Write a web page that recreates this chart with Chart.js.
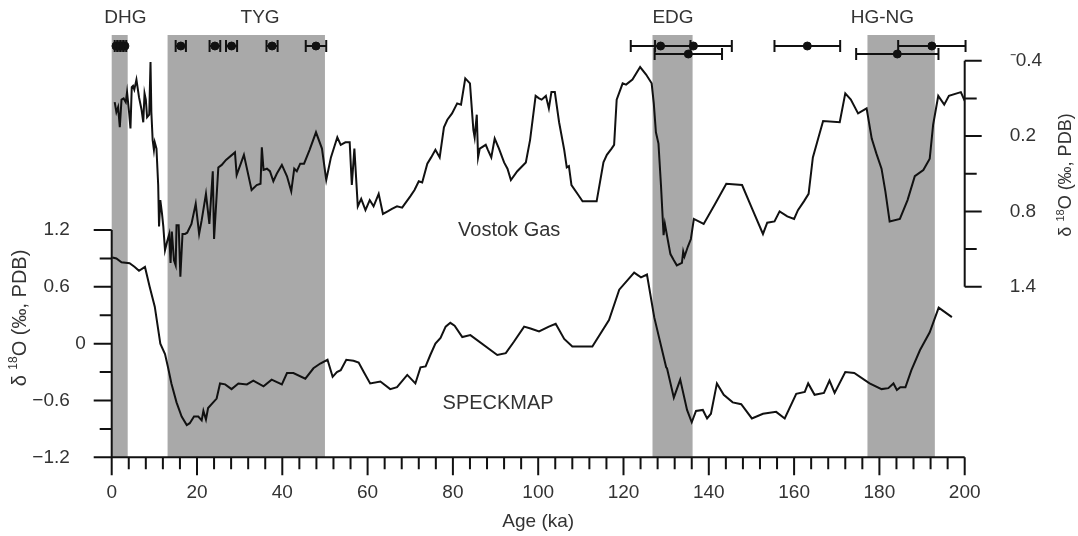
<!DOCTYPE html>
<html>
<head>
<meta charset="utf-8">
<script src="https://cdn.jsdelivr.net/npm/chart.js@4.4.1/dist/chart.umd.min.js"></script>
<style>
  html, body { margin: 0; padding: 0; background: #fff; }
  #wrap { width: 1078px; height: 536px; position: relative; }
</style>
</head>
<body>
<div id="wrap"><canvas id="chart"></canvas></div>
<script>
// Vostok gas δ18O (right axis, reversed)
let vostokAge = [0.7, 1.1, 1.5, 1.9, 2.3, 2.8, 3.3, 3.6, 4.1, 4.4, 4.7, 5.0, 5.3, 5.8, 6.4, 7.0, 7.4, 7.7, 8.0, 8.3,
    8.8, 9.1, 9.3, 9.6, 9.9, 10.1, 10.5, 10.9, 11.1, 11.4, 11.8, 12.1, 12.5, 13.0, 13.5, 13.8, 14.1, 14.6, 15.0, 15.2,
    15.7, 16.1, 16.6, 17.2, 17.7, 18.7, 19.7, 20.5, 21.1, 22.1, 22.9, 23.7, 24.0, 25.0, 25.8, 26.8, 28.9, 29.3, 31.0, 32.8,
    34.0, 34.9, 35.2, 35.6, 36.4, 37.1, 37.9, 38.7, 39.9, 41.1, 42.1, 42.8, 43.4, 44.2, 45.1, 46.4, 47.9, 49.3, 50.3, 51.4,
    52.9, 53.7, 54.8, 55.8, 56.3, 56.9, 57.7, 58.5, 59.5, 60.5, 61.4, 62.6, 63.6, 64.7, 65.7, 66.9, 68.1, 70.0, 71.0, 72.0,
    72.8, 74.0, 74.9, 75.9, 76.9, 77.9, 78.7, 79.8, 81.0, 81.9, 82.9, 84.0, 84.8, 85.1, 85.6, 85.9, 86.3, 87.7, 88.2, 89.0,
    89.8, 90.8, 92.0, 92.8, 93.6, 95.1, 97.1, 98.1, 99.4, 100.2, 100.8, 101.8, 102.5, 103.1, 103.9, 104.9, 106.1, 106.7, 107.2, 107.8,
    109.2, 110.4, 113.7, 115.3, 116.1, 117.2, 117.8, 118.4, 119.8, 120.6, 122.1, 123.9, 125.3, 126.6, 127.1, 127.6, 128.2, 128.8, 129.4, 129.7,
    130.4, 131.0, 131.8, 132.5, 133.7, 134.0, 134.3, 135.1, 135.8, 136.5, 138.8, 141.5, 144.1, 147.8, 150.3, 152.7, 153.7, 155.4, 156.6, 158.4,
    160.0, 160.9, 162.3, 163.4, 164.4, 165.4, 166.8, 170.7, 172.0, 173.3, 175.0, 177.0, 178.2, 179.3, 180.5, 181.4, 182.4, 184.8, 186.6, 188.3,
    190.3, 191.8, 192.6, 193.8, 195.2, 196.3, 199.1, 200.0];
let vostokD18O = [-0.07, 0.01, -0.03, 0.13, -0.09, -0.10, -0.07, -0.15, 0.02, 0.14, -0.19, -0.20, -0.17, -0.25, -0.11, -0.01, 0.09, -0.14, -0.09, 0.05,
    0.03, -0.39, 0.01, 0.23, 0.31, 0.25, 0.30, 0.59, 0.92, 0.71, 0.82, 0.92, 1.11, 1.04, 0.98, 1.21, 0.96, 1.19, 1.23, 0.91,
    0.91, 1.32, 0.98, 0.98, 0.97, 0.90, 0.74, 0.98, 0.87, 0.66, 0.90, 0.48, 1.02, 0.45, 0.43, 0.39, 0.33, 0.51, 0.35, 0.63,
    0.59, 0.58, 0.29, 0.47, 0.46, 0.48, 0.56, 0.50, 0.43, 0.52, 0.64, 0.46, 0.48, 0.42, 0.42, 0.31, 0.17, 0.30, 0.55, 0.37,
    0.21, 0.27, 0.25, 0.25, 0.59, 0.30, 0.76, 0.70, 0.79, 0.71, 0.76, 0.66, 0.82, 0.80, 0.78, 0.76, 0.77, 0.68, 0.63, 0.56,
    0.57, 0.42, 0.37, 0.31, 0.37, 0.13, 0.07, 0.02, -0.06, -0.05, -0.26, -0.22, 0.15, 0.21, 0.03, 0.37, 0.30, 0.27, 0.31, 0.37,
    0.22, 0.30, 0.41, 0.46, 0.55, 0.48, 0.41, 0.23, -0.12, -0.10, -0.09, -0.12, -0.02, -0.15, -0.15, 0.09, 0.31, 0.45, 0.44, 0.59,
    0.66, 0.72, 0.72, 0.41, 0.35, 0.30, 0.27, -0.09, -0.22, -0.21, -0.25, -0.35, -0.29, -0.22, -0.06, 0.17, 0.26, 0.60, 0.99, 0.90,
    1.03, 1.14, 1.19, 1.23, 1.21, 1.12, 1.16, 1.08, 1.02, 0.86, 0.90, 0.74, 0.58, 0.59, 0.79, 0.98, 0.89, 0.88, 0.80, 0.84,
    0.86, 0.79, 0.72, 0.66, 0.37, 0.25, 0.08, 0.09, -0.14, -0.09, 0.02, -0.02, 0.22, 0.34, 0.46, 0.64, 0.88, 0.86, 0.71, 0.52,
    0.47, 0.38, 0.11, -0.12, -0.05, -0.12, -0.15, -0.08];

// SPECMAP δ18O (left axis)
let specmapAge = [0.15, 1.1, 2.3, 4.2, 5.4, 6.4, 7.8, 8.9, 10.1, 11.4, 12.5, 13.2, 14.0, 15.2, 16.4, 17.6, 18.3, 19.3, 20.3, 21.1,
    21.5, 22.1, 22.6, 23.8, 24.6, 25.4, 26.6, 28.1, 29.7, 31.7, 33.2, 35.6, 37.5, 39.9, 41.1, 42.6, 45.4, 47.3, 48.9, 50.6,
    51.8, 52.8, 53.7, 55.0, 56.7, 57.9, 59.1, 60.6, 63.0, 65.3, 66.9, 69.3, 71.2, 72.4, 73.6, 74.7, 75.9, 77.1, 78.3, 79.4,
    80.4, 82.2, 84.1, 90.4, 92.4, 94.3, 96.7, 98.2, 100.2, 102.5, 104.1, 106.1, 108.0, 112.7, 116.6, 119.0, 122.5, 124.1, 125.5, 127.2,
    130.0, 130.2, 131.8, 133.3, 134.9, 136.0, 137.0, 138.6, 139.6, 140.5, 141.9, 143.5, 145.6, 147.6, 150.1, 152.7, 155.8, 157.8, 160.5, 162.5,
    163.3, 164.8, 167.0, 168.3, 169.5, 172.0, 174.1, 177.7, 180.5, 182.1, 183.3, 184.1, 184.9, 186.1, 187.5, 189.5, 191.8, 193.9, 197.0];
let specmapD18O = [0.91, 0.90, 0.86, 0.85, 0.81, 0.77, 0.81, 0.60, 0.39, 0.00, -0.11, -0.25, -0.42, -0.62, -0.77, -0.86, -0.84, -0.77, -0.77, -0.81,
    -0.71, -0.80, -0.68, -0.62, -0.58, -0.42, -0.43, -0.48, -0.42, -0.43, -0.39, -0.45, -0.38, -0.43, -0.31, -0.31, -0.37, -0.26, -0.21, -0.17,
    -0.35, -0.30, -0.28, -0.17, -0.18, -0.20, -0.30, -0.42, -0.40, -0.48, -0.46, -0.33, -0.42, -0.25, -0.24, -0.12, 0.00, 0.06, 0.18, 0.22,
    0.19, 0.07, 0.09, -0.12, -0.10, 0.02, 0.18, 0.16, 0.13, 0.18, 0.21, 0.05, -0.03, -0.03, 0.25, 0.57, 0.75, 0.70, 0.73, 0.28,
    -0.25, -0.26, -0.57, -0.38, -0.70, -0.83, -0.71, -0.70, -0.79, -0.74, -0.42, -0.54, -0.62, -0.64, -0.79, -0.74, -0.72, -0.79, -0.53, -0.51,
    -0.42, -0.54, -0.52, -0.39, -0.52, -0.30, -0.31, -0.42, -0.48, -0.47, -0.42, -0.49, -0.46, -0.46, -0.28, -0.07, 0.12, 0.38, 0.28];

// dating results (ka) with ± error and the row of the marker strip
let datingAge = [1.0, 1.7, 2.4, 3.1, 16.2, 24.2, 28.1, 37.6, 47.9, 128.7, 136.4, 135.2, 163.1, 192.3, 184.2];
let datingErr = [0.3, 0.3, 0.3, 0.3, 1.2, 1.25, 1.3, 1.3, 2.4, 7.0, 9.0, 7.9, 7.7, 7.9, 9.65];
let datingRow = [1, 1, 1, 1, 1, 1, 1, 1, 1, 1, 1, 2, 1, 1, 2];

// shaded intervals
let bandName = ["DHG", "TYG", "EDG", "HG-NG"];
let bandStart = [0, 13.1, 126.8, 177.2];
let bandEnd = [3.75, 50.0, 136.2, 193.0];
let bandLabelAge = [3.2, 34.8, 131.6, 180.7];

// ticks
let xTickValues = [0, 20, 40, 60, 80, 100, 120, 140, 160, 180, 200];
let xTickLabels = ["0", "20", "40", "60", "80", "100", "120", "140", "160", "180", "200"];
let leftTickValues = [-1.2, -0.6, 0, 0.6, 1.2];
let leftTickLabels = ["\u22121.2   ", "\u22120.6   ", "0", "0.6   ", "1.2   "];
let rightTickValues = [-0.4, 0.2, 0.8, 1.4];
let rightTickLabels = ["\u207B0.4", "0.2", "0.8", "1.4"];

const FONT = "'Liberation Sans', Arial, sans-serif";
const TEXT = "#333";
const INK = "#111";

// 📌 grey age bands behind the curves
const bandPlugin = {
    id: "bands",
    beforeDatasetsDraw(chart) {
        let { ctx, chartArea, scales } = chart;
        ctx.save();
        ctx.fillStyle = "#a9a9a9";
        for (let i = 0; i < bandStart.length; i++) {
            let x0 = scales.x.getPixelForValue(bandStart[i]);
            let x1 = scales.x.getPixelForValue(bandEnd[i]);
            ctx.fillRect(x0, chartArea.top, x1 - x0, chartArea.bottom - chartArea.top);
        }
        ctx.restore();
    }
};

// 📌 horizontal error bars for the dating results
const errorBarPlugin = {
    id: "errorBars",
    afterDatasetsDraw(chart) {
        let { ctx, scales } = chart;
        ctx.save();
        ctx.strokeStyle = INK;
        ctx.lineWidth = 2;
        for (let i = 0; i < datingAge.length; i++) {
            let y = scales.yRow.getPixelForValue(datingRow[i]);
            let x0 = scales.x.getPixelForValue(datingAge[i] - datingErr[i]);
            let x1 = scales.x.getPixelForValue(datingAge[i] + datingErr[i]);
            ctx.beginPath();
            ctx.moveTo(x0, y); ctx.lineTo(x1, y);
            ctx.moveTo(x0, y - 6); ctx.lineTo(x0, y + 6);
            ctx.moveTo(x1, y - 6); ctx.lineTo(x1, y + 6);
            ctx.stroke();
        }
        ctx.restore();
    }
};

function drawDeltaTitle(ctx, cx, cy, size) {
    // rotated title δ 18O (‰, PDB), reads bottom to top
    let small = Math.round(size * 0.6);
    let p1 = "\u03B4 ", p2 = "18", p3 = "O (\u2030, PDB)";
    ctx.font = size + "px " + FONT;
    let w1 = ctx.measureText(p1).width, w3 = ctx.measureText(p3).width;
    ctx.font = small + "px " + FONT;
    let w2 = ctx.measureText(p2).width;
    let total = w1 + w2 + w3;
    ctx.save();
    ctx.translate(cx, cy);
    ctx.rotate(-Math.PI / 2);
    ctx.fillStyle = TEXT;
    ctx.textBaseline = "middle";
    ctx.textAlign = "left";
    let x = -total / 2;
    ctx.font = size + "px " + FONT;
    ctx.fillText(p1, x, 0);
    x += w1;
    ctx.font = small + "px " + FONT;
    ctx.fillText(p2, x, -size * 0.3);
    x += w2;
    ctx.font = size + "px " + FONT;
    ctx.fillText(p3, x, 0);
    ctx.restore();
}

// 📌 axis lines, tick marks and text labels
const axesPlugin = {
    id: "axesLines",
    afterDraw(chart) {
        let { ctx, chartArea, scales } = chart;
        let xs = scales.x, yl = scales.y, yr = scales.y2;
        ctx.save();
        ctx.strokeStyle = INK;
        ctx.lineWidth = 2;
        ctx.beginPath();
        // x axis
        ctx.moveTo(chartArea.left - 18, chartArea.bottom);
        ctx.lineTo(chartArea.right, chartArea.bottom);
        for (let i = 0; i <= 50; i++) {
            let px = xs.getPixelForValue(i * 4);
            ctx.moveTo(px, chartArea.bottom);
            ctx.lineTo(px, chartArea.bottom + (i % 5 === 0 ? 18 : 12));
        }
        // left axis
        ctx.moveTo(chartArea.left, yl.getPixelForValue(1.2));
        ctx.lineTo(chartArea.left, chartArea.bottom);
        for (let i = -4; i <= 4; i++) {
            let py = yl.getPixelForValue(i * 0.3);
            ctx.moveTo(chartArea.left, py);
            ctx.lineTo(chartArea.left - (i % 2 === 0 ? 18 : 12), py);
        }
        // right axis
        ctx.moveTo(chartArea.right, yr.getPixelForValue(-0.4));
        ctx.lineTo(chartArea.right, yr.getPixelForValue(1.4));
        for (let i = 0; i <= 6; i++) {
            let py = yr.getPixelForValue(-0.4 + i * 0.3);
            ctx.moveTo(chartArea.right, py);
            ctx.lineTo(chartArea.right + (i % 2 === 0 ? 17 : 12), py);
        }
        ctx.stroke();

        // band names
        ctx.fillStyle = TEXT;
        ctx.textAlign = "center";
        ctx.textBaseline = "middle";
        ctx.font = "19px " + FONT;
        for (let i = 0; i < bandName.length; i++) {
            ctx.fillText(bandName[i], xs.getPixelForValue(bandLabelAge[i]), 18);
        }
        // curve names
        ctx.font = "20px " + FONT;
        ctx.fillText("Vostok Gas", xs.getPixelForValue(93.2), yl.getPixelForValue(1.2));
        ctx.fillText("SPECKMAP", xs.getPixelForValue(90.6), yl.getPixelForValue(-0.63));

        drawDeltaTitle(ctx, 20, 318, 20);
        drawDeltaTitle(ctx, 1066, 175, 18);
        ctx.restore();
    }
};

// fixed axis box, no extra label padding pushed into the layout
function fixBox(size) {
    return function (axis) {
        if (axis.isHorizontal()) {
            axis.height = size;
            axis.paddingLeft = 0;
            axis.paddingRight = 0;
        } else {
            axis.width = size;
            axis.paddingTop = 0;
            axis.paddingBottom = 0;
        }
    };
}

document.addEventListener("DOMContentLoaded", function () {
    let ctx = document.getElementById("chart").getContext("2d");

    let vostokPoints = vostokAge.map((a, i) => ({ x: a, y: vostokD18O[i] }));
    let specmapPoints = specmapAge.map((a, i) => ({ x: a, y: specmapD18O[i] }));
    let datingPoints = datingAge.map((a, i) => ({ x: a, y: datingRow[i] }));

    let tickFont = { family: FONT, size: 19 };

    new Chart(ctx, {
        type: "line",
        data: {
            datasets: [
                {
                    label: "Vostok Gas",
                    data: vostokPoints,
                    yAxisID: "y2",
                    borderColor: INK,
                    borderWidth: 2,
                    pointRadius: 0,
                    tension: 0
                },
                {
                    label: "SPECKMAP",
                    data: specmapPoints,
                    yAxisID: "y",
                    borderColor: INK,
                    borderWidth: 2,
                    pointRadius: 0,
                    tension: 0
                },
                {
                    label: "Dating",
                    type: "scatter",
                    data: datingPoints,
                    yAxisID: "yRow",
                    backgroundColor: INK,
                    borderColor: INK,
                    pointRadius: 4,
                    clip: false
                }
            ]
        },
        options: {
            responsive: true,
            maintainAspectRatio: false,
            devicePixelRatio: 1,
            animation: false,
            layout: { padding: { top: 35, left: 0, right: 0, bottom: 0 } },
            plugins: {
                legend: { display: false },
                tooltip: { enabled: false }
            },
            scales: {
                x: {
                    type: "linear",
                    min: 0,
                    max: 200,
                    grid: { display: false, drawTicks: false },
                    border: { display: false },
                    afterBuildTicks: (axis) => { axis.ticks = xTickValues.map((v) => ({ value: v })); },
                    afterFit: fixBox(78.7),
                    ticks: {
                        autoSkip: false,
                        maxRotation: 0,
                        padding: 24,
                        color: TEXT,
                        font: tickFont,
                        callback: (v, i) => xTickLabels[i]
                    },
                    title: {
                        display: true,
                        text: "Age (ka)",
                        color: TEXT,
                        font: { family: FONT, size: 19 },
                        padding: { top: 0, bottom: 3 }
                    }
                },
                y: {
                    position: "left",
                    min: -1.2,
                    max: 3.259,
                    grid: { display: false, drawTicks: false },
                    border: { display: false },
                    afterBuildTicks: (axis) => { axis.ticks = leftTickValues.map((v) => ({ value: v })); },
                    afterFit: fixBox(111.7),
                    ticks: {
                        padding: 26,
                        color: TEXT,
                        font: tickFont,
                        callback: (v, i) => leftTickLabels[i]
                    }
                },
                y2: {
                    position: "right",
                    reverse: true,
                    min: -0.605,
                    max: 2.759,
                    grid: { display: false, drawTicks: false },
                    border: { display: false },
                    afterBuildTicks: (axis) => { axis.ticks = rightTickValues.map((v) => ({ value: v })); },
                    afterFit: fixBox(113.3),
                    ticks: {
                        padding: 45,
                        color: TEXT,
                        font: tickFont,
                        callback: (v, i) => rightTickLabels[i]
                    }
                },
                yRow: {
                    display: false,
                    reverse: true,
                    min: -0.375,
                    max: 52.41
                }
            }
        },
        plugins: [bandPlugin, errorBarPlugin, axesPlugin]
    });
});
</script>
</body>
</html>
